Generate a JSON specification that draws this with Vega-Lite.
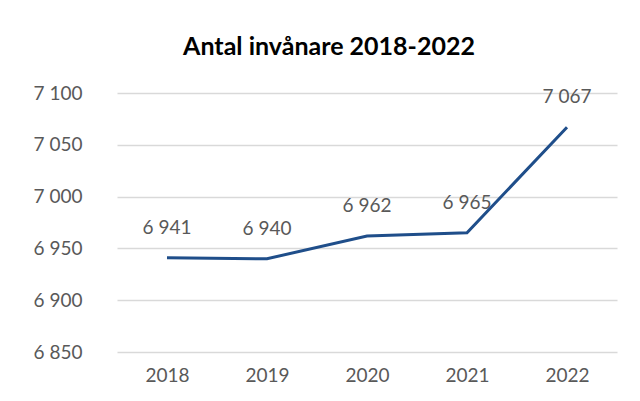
{
  "$schema": "https://vega.github.io/schema/vega-lite/v6.json",
  "autosize": "none",
  "width": 500,
  "height": 259,
  "padding": {"left": 117, "top": 93, "right": 23, "bottom": 49},
  "background": "white",
  "config": {
    "locale": {"number": {"decimal": ",", "thousands": " ", "grouping": [3], "currency": ["", " kr"]}},
    "view": {"stroke": null},
    "font": "Lato"
  },
  "title": {
    "text": "Antal invånare 2018-2022",
    "font": "Lato",
    "fontSize": 25,
    "fontWeight": "bold",
    "color": "#000000",
    "anchor": "middle",
    "dx": -38,
    "offset": 24
  },
  "data": {
    "values": [
      {"year": "2018", "value": 6941},
      {"year": "2019", "value": 6940},
      {"year": "2020", "value": 6962},
      {"year": "2021", "value": 6965},
      {"year": "2022", "value": 7067}
    ]
  },
  "encoding": {
    "x": {
      "field": "year", "type": "ordinal",
      "scale": {"type": "point", "padding": 0.5},
      "axis": {"title": null, "labelAngle": 0, "domain": false, "ticks": false, "labelPadding": 14, "labelFontSize": 19, "labelColor": "#595959", "grid": false}
    },
    "y": {
      "field": "value", "type": "quantitative",
      "scale": {"domain": [6850, 7100], "zero": false, "nice": false},
      "axis": {"title": null, "values": [6850, 6900, 6950, 7000, 7050, 7100], "format": ",d", "domain": false, "ticks": false, "labelPadding": 35, "labelFontSize": 19, "labelColor": "#595959", "gridColor": "#d9d9d9", "gridWidth": 1.5}
    }
  },
  "layer": [
    {"mark": {"type": "line", "color": "#1f4e8a", "strokeWidth": 3}},
    {"mark": {"type": "text", "dy": -30, "fontSize": 19, "color": "#595959", "font": "Lato"},
     "encoding": {"text": {"field": "value", "type": "quantitative", "format": ",d"}}}
  ]
}
